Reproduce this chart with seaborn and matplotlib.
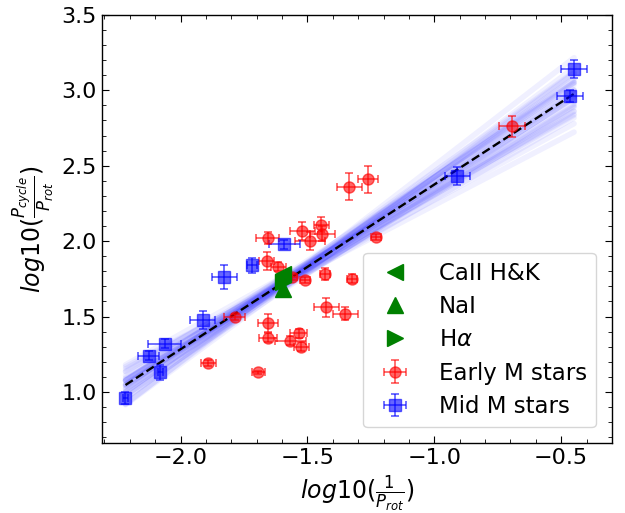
import numpy as np
import pandas as pd
import matplotlib
matplotlib.use("Agg")
import matplotlib.pyplot as plt
from matplotlib.ticker import MultipleLocator
import seaborn as sns

# ---- data ----
early_x = [-0.693, -1.335, -1.260, -1.657, -1.520, -1.445, -1.441, -1.490, -1.228,
           -1.660, -1.614, -1.560, -1.508, -1.430, -1.323, -1.787, -1.654, -1.654,
           -1.567, -1.535, -1.524, -1.425, -1.350, -1.693, -1.890]
early_y = [2.76, 2.36, 2.41, 2.02, 2.07, 2.11, 2.05, 2.00, 2.03,
           1.87, 1.83, 1.76, 1.74, 1.78, 1.75, 1.50, 1.46, 1.36,
           1.34, 1.39, 1.30, 1.56, 1.52, 1.13, 1.19]
early_xerr = [0.05, 0.05, 0.04, 0.045, 0.05, 0.03, 0.05, 0.06, 0.02,
              0.03, 0.03, 0.02, 0.02, 0.02, 0.02, 0.04, 0.04, 0.035,
              0.06, 0.035, 0.03, 0.05, 0.05, 0.025, 0.03]
early_yerr = [0.07, 0.09, 0.09, 0.04, 0.06, 0.05, 0.05, 0.06, 0.02,
              0.06, 0.03, 0.02, 0.02, 0.04, 0.03, 0.02, 0.06, 0.03,
              0.03, 0.03, 0.03, 0.06, 0.04, 0.01, 0.02]

mid_x = [-2.217, -2.126, -2.079, -2.063, -1.913, -1.827, -1.717, -1.591, -0.909, -0.465, -0.449]
mid_y = [0.96, 1.24, 1.13, 1.32, 1.48, 1.76, 1.84, 1.98, 2.43, 2.96, 3.14]
mid_xerr = [0.01, 0.04, 0.01, 0.065, 0.05, 0.05, 0.02, 0.06, 0.05, 0.05, 0.05]
mid_yerr = [0.04, 0.03, 0.05, 0.03, 0.06, 0.08, 0.05, 0.03, 0.06, 0.04, 0.06]

# activity-indicator markers
caii_x, caii_y = [-1.598], [1.78]
nai_x, nai_y = [-1.598], [1.68]
ha_x, ha_y = [-1.598], [1.73]

# best fit and posterior sample lines (slope, intercept)
fit_slope, fit_intercept = 1.092, 3.467
sample_slopes = [1.09, 1.05, 1.13, 1.00, 1.18, 0.96, 1.22, 1.07, 1.11, 0.92,
                 1.26, 1.03, 1.15, 0.98, 1.20, 1.09, 0.88, 1.30, 1.06, 1.12,
                 1.01, 1.17, 0.94, 1.24, 1.08, 1.10, 0.99, 1.14, 1.04, 1.19]
sample_intercepts = [3.464, 3.420, 3.508, 3.350, 3.578, 3.266, 3.662, 3.392, 3.536, 3.192,
                     3.716, 3.358, 3.570, 3.258, 3.660, 3.494, 3.118, 3.800, 3.426, 3.462,
                     3.316, 3.592, 3.264, 3.664, 3.438, 3.490, 3.304, 3.564, 3.354, 3.614]

# ---- figure ----
sns.set_style("ticks")
plt.rcParams['font.family'] = ['DejaVu Sans']
plt.rcParams['mathtext.fontset'] = 'dejavusans'
for k in ['text.color', 'axes.labelcolor', 'xtick.color', 'ytick.color', 'axes.edgecolor']:
    plt.rcParams[k] = 'black'

fig = plt.figure(figsize=(6.25, 5.13), dpi=100)
ax = fig.add_axes([0.163, 0.136, 0.816, 0.835])

xs = np.array([min(mid_x), max(mid_x)])
rows = []
for i, (b, a) in enumerate(zip(sample_slopes, sample_intercepts)):
    for xv in xs:
        rows.append({"x": xv, "y": a + b * xv, "s": i})
samples = pd.DataFrame(rows)
sns.lineplot(data=samples, x="x", y="y", units="s", estimator=None,
             color="blue", alpha=0.06, lw=4, ax=ax, legend=False, zorder=1)

fit_df = pd.DataFrame({"x": xs, "y": fit_intercept + fit_slope * xs})
sns.lineplot(data=fit_df, x="x", y="y", color="black", ls="--", lw=1.7,
             ax=ax, legend=False, zorder=2)

e_early = ax.errorbar(early_x, early_y, xerr=early_xerr, yerr=early_yerr, fmt='o',
                      color='red', alpha=0.6, markersize=8, capsize=3, elinewidth=1.3,
                      capthick=1.3, label='Early M stars', zorder=3)
e_mid = ax.errorbar(mid_x, mid_y, xerr=mid_xerr, yerr=mid_yerr, fmt='s',
                    color='blue', alpha=0.6, markersize=9, capsize=3, elinewidth=1.3,
                    capthick=1.3, label='Mid M stars', zorder=3)

h1, = ax.plot(caii_x, caii_y, '<', color='green', markersize=11, ls='none',
              label='CaII H&K', zorder=4)
h2, = ax.plot(nai_x, nai_y, '^', color='green', markersize=11, ls='none',
              label='NaI', zorder=4)
h3, = ax.plot(ha_x, ha_y, '>', color='green', markersize=11, ls='none',
              label=r'H$\alpha$', zorder=4)

ax.set_xlim(-2.31, -0.30)
ax.set_ylim(0.66, 3.5)
ax.xaxis.set_major_locator(MultipleLocator(0.5))
ax.xaxis.set_minor_locator(MultipleLocator(0.1))
ax.yaxis.set_major_locator(MultipleLocator(0.5))
ax.yaxis.set_minor_locator(MultipleLocator(0.1))
ax.tick_params(which='both', direction='in', top=True, right=True, labelsize=16)
ax.tick_params(which='major', length=5)
ax.tick_params(which='minor', length=3)
for s in ax.spines.values():
    s.set_linewidth(1.0)

ax.set_xlabel(r'$log10(\frac{1}{P_{rot}})$', fontsize=17)
ax.set_ylabel(r'$log10(\frac{P_{cycle}}{P_{rot}})$', fontsize=17)

ax.legend(handles=[h1, h2, h3, e_early, e_mid], loc='lower right', fontsize=16.5,
          handletextpad=0.9, labelspacing=0.45, borderpad=0.4, borderaxespad=0.7,
          frameon=True)

fig.savefig("out.png", dpi=100)
